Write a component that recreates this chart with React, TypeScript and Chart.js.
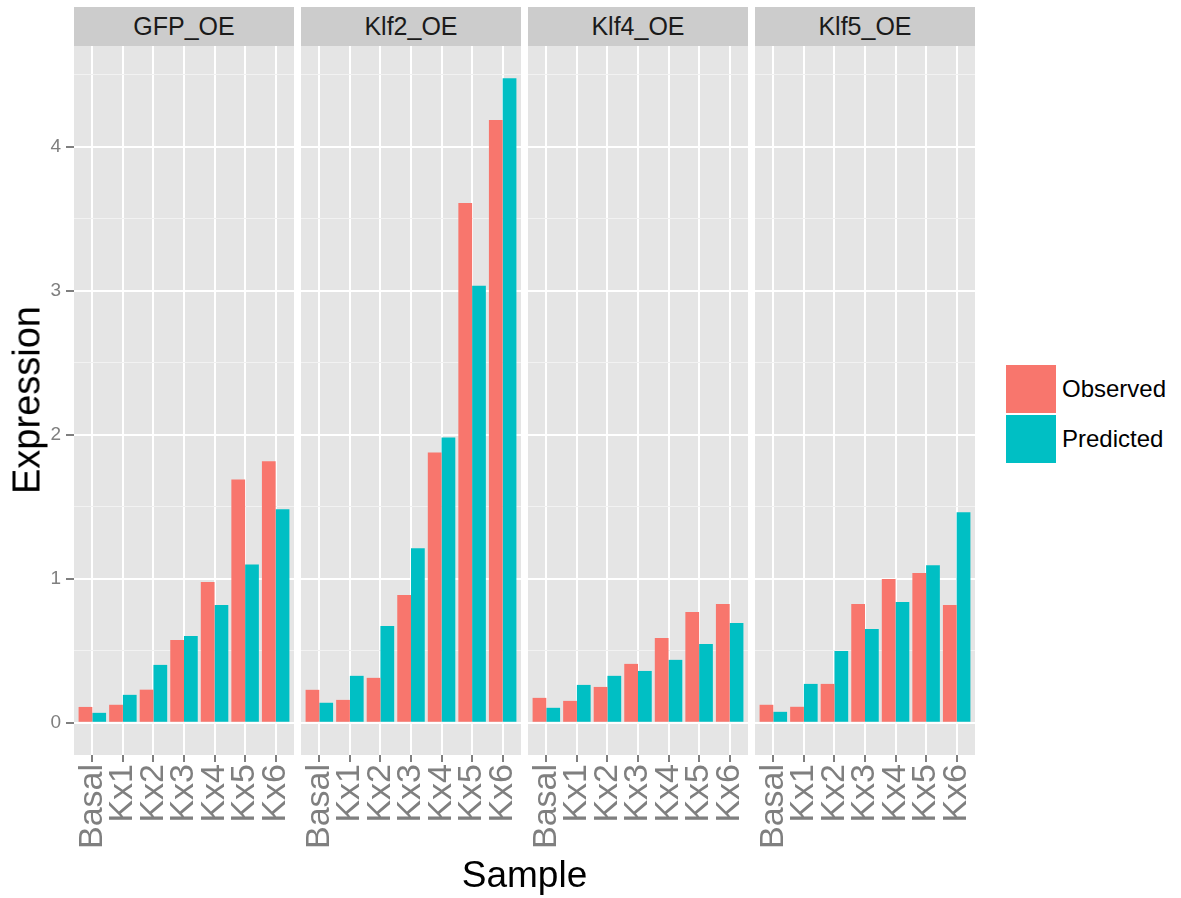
import React, { useEffect, useRef } from "react";
import { Chart, registerables } from "chart.js";

Chart.register(...registerables);

const FONT = "'Liberation Sans', Arial, Helvetica, sans-serif";

const samples = ["Basal", "Kx1", "Kx2", "Kx3", "Kx4", "Kx5", "Kx6"];
const panelTitles = ["GFP_OE", "Klf2_OE", "Klf4_OE", "Klf5_OE"];
const seriesNames = ["Observed", "Predicted"];

const gfpObserved = [0.11, 0.125, 0.23, 0.575, 0.977, 1.69, 1.816];
const gfpPredicted = [0.069, 0.194, 0.402, 0.603, 0.818, 1.1, 1.483];
const klf2Observed = [0.229, 0.159, 0.312, 0.887, 1.878, 3.61, 4.186];
const klf2Predicted = [0.139, 0.326, 0.672, 1.213, 1.982, 3.035, 4.477];
const klf4Observed = [0.173, 0.152, 0.249, 0.409, 0.589, 0.769, 0.825];
const klf4Predicted = [0.104, 0.263, 0.326, 0.36, 0.437, 0.547, 0.693];
const klf5Observed = [0.125, 0.111, 0.27, 0.825, 0.998, 1.04, 0.818];
const klf5Predicted = [0.076, 0.27, 0.499, 0.651, 0.839, 1.095, 1.462];

const observedByPanel = [gfpObserved, klf2Observed, klf4Observed, klf5Observed];
const predictedByPanel = [gfpPredicted, klf2Predicted, klf4Predicted, klf5Predicted];

const RED = "#F8766D";
const TEAL = "#00BFC4";
const PANEL_BG = "#E5E5E5";
const STRIP_BG = "#CCCCCC";
const TICK_GREY = "#7F7F7F";

const allValues = [...observedByPanel.flat(), ...predictedByPanel.flat()];
const dataMax = Math.max(...allValues);
const yPad = dataMax * 0.05;
const Y_MIN = -yPad;
const Y_MAX = dataMax + yPad;

const PANEL_W = 220;
const PANEL_GAP = 7;
const FIRST_LEFT = 74;
const PANEL_TOP = 46;
const CANVAS_H = 852;
const X_AXIS_H = 143;

const bgPlugin = {
  id: "panelBg",
  beforeDraw(chart: any) {
    const { ctx, chartArea } = chart;
    ctx.save();
    ctx.fillStyle = PANEL_BG;
    ctx.fillRect(chartArea.left, chartArea.top, chartArea.right - chartArea.left, chartArea.bottom - chartArea.top);
    ctx.restore();
  },
};

function Panel({ index }: { index: number }) {
  const ref = useRef<HTMLCanvasElement>(null);
  const showY = index === 0;
  const width = showY ? FIRST_LEFT + PANEL_W : PANEL_W;
  const left = showY ? 0 : FIRST_LEFT + index * (PANEL_W + PANEL_GAP);

  useEffect(() => {
    const obs = observedByPanel[index];
    const pred = predictedByPanel[index];
    const chart = new Chart(ref.current as HTMLCanvasElement, {
      type: "bar",
      data: {
        datasets: [
          {
            label: seriesNames[0],
            data: obs.map((v, i) => ({ x: i, y: v })),
            backgroundColor: RED,
            borderWidth: 0,
            barPercentage: 1,
            categoryPercentage: 0.9,
          },
          {
            label: seriesNames[1],
            data: pred.map((v, i) => ({ x: i, y: v })),
            backgroundColor: TEAL,
            borderWidth: 0,
            barPercentage: 1,
            categoryPercentage: 0.9,
          },
        ],
      },
      options: {
        animation: false,
        responsive: false,
        devicePixelRatio: 1,
        layout: { padding: 0 },
        plugins: {
          legend: { display: false },
          tooltip: { enabled: false },
          title: { display: false },
        },
        scales: {
          x: {
            type: "linear",
            min: -0.6,
            max: samples.length - 1 + 0.6,
            offset: false,
            border: { display: false },
            grid: {
              offset: false,
              color: "#FFFFFF",
              lineWidth: 2,
              drawTicks: true,
              tickLength: 7,
              tickColor: TICK_GREY,
              tickWidth: 2,
            },
            ticks: {
              stepSize: 1,
              includeBounds: false,
              autoSkip: false,
              minRotation: 90,
              maxRotation: 90,
              padding: 2,
              color: TICK_GREY,
              font: { family: FONT, size: 34 },
              callback: (v: any) => samples[v] ?? "",
            },
            afterFit: (s: any) => {
              s.height = X_AXIS_H;
              s.paddingLeft = 0;
              s.paddingRight = 0;
            },
          },
          y: {
            type: "linear",
            min: Y_MIN,
            max: Y_MAX,
            border: { display: false },
            grid: {
              color: (c: any) => (Number.isInteger(c.tick?.value) ? "#FFFFFF" : "#F2F2F2"),
              lineWidth: (c: any) => (Number.isInteger(c.tick?.value) ? 2 : 1),
              drawTicks: showY,
              tickLength: 8,
              tickWidth: 2,
              tickColor: (c: any) => (Number.isInteger(c.tick?.value) ? TICK_GREY : "rgba(0,0,0,0)"),
            },
            ticks: {
              display: showY,
              stepSize: 0.5,
              includeBounds: false,
              padding: 5,
              color: TICK_GREY,
              font: { family: FONT, size: 19 },
              callback: (v: any) => (Number.isInteger(v) ? String(v) : ""),
            },
            afterFit: (s: any) => {
              s.width = showY ? FIRST_LEFT : 0;
              s.paddingTop = 0;
              s.paddingBottom = 0;
            },
          },
        },
      },
      plugins: [bgPlugin],
    } as any);
    return () => chart.destroy();
  }, [index]);

  return (
    <canvas
      ref={ref}
      width={width}
      height={CANVAS_H}
      style={{ position: "absolute", left, top: PANEL_TOP, width, height: CANVAS_H }}
    />
  );
}

export default function App() {
  return (
    <div
      style={{
        position: "fixed",
        left: 0,
        top: 0,
        width: 1181,
        height: 898,
        background: "#FFFFFF",
        overflow: "hidden",
        fontFamily: FONT,
      }}
    >
      {panelTitles.map((t, i) => (
        <div
          key={t}
          style={{
            position: "absolute",
            left: FIRST_LEFT + i * (PANEL_W + PANEL_GAP),
            top: 7,
            width: PANEL_W,
            height: 39,
            lineHeight: "39px",
            background: STRIP_BG,
            color: "#1A1A1A",
            fontSize: 25,
            textAlign: "center",
          }}
        >
          {t}
        </div>
      ))}
      {panelTitles.map((t, i) => (
        <Panel key={t} index={i} />
      ))}
      <div
        style={{
          position: "absolute",
          left: 27,
          top: 400,
          transform: "translate(-50%, -50%) rotate(-90deg)",
          fontSize: 38,
          whiteSpace: "nowrap",
          color: "#000",
        }}
      >
        Expression
      </div>
      <div
        style={{
          position: "absolute",
          left: FIRST_LEFT,
          width: 4 * PANEL_W + 3 * PANEL_GAP,
          top: 850,
          height: 50,
          lineHeight: "50px",
          textAlign: "center",
          fontSize: 37,
          color: "#000",
        }}
      >
        Sample
      </div>
      {seriesNames.map((name, i) => (
        <React.Fragment key={name}>
          <div
            style={{
              position: "absolute",
              left: 1006,
              top: 365 + i * 50,
              width: 50,
              height: 48,
              background: i === 0 ? RED : TEAL,
            }}
          />
          <div
            style={{
              position: "absolute",
              left: 1062,
              top: 365 + i * 50,
              height: 48,
              lineHeight: "48px",
              fontSize: 24,
              color: "#000",
              whiteSpace: "nowrap",
            }}
          >
            {name}
          </div>
        </React.Fragment>
      ))}
    </div>
  );
}
